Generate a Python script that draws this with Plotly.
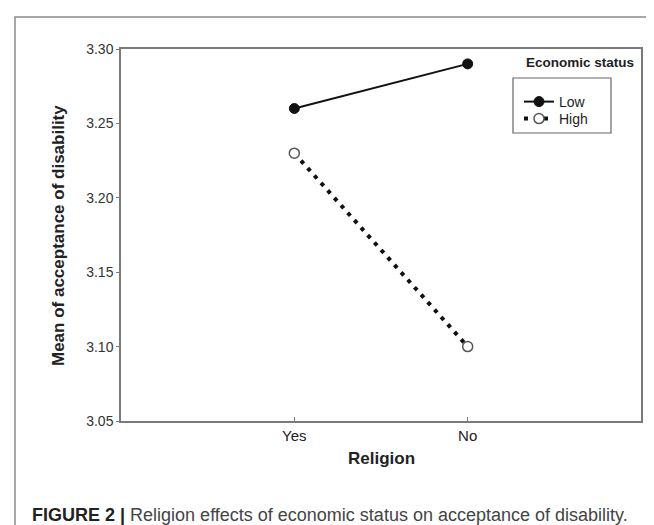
import plotly.graph_objects as go

religion = ["Yes", "No"]
x_pos = [1, 2]
low_values = [3.26, 3.29]
high_values = [3.23, 3.10]
y_ticks = [3.05, 3.10, 3.15, 3.20, 3.25, 3.30]
y_ticklabels = ["3.05", "3.10", "3.15", "3.20", "3.25", "3.30"]

W, H = 654, 525
L, R, T, B = 113, 21, 41, 112
PW, PH = W - L - R, H - T - B


def px(xp):
    return (xp - L) / PW


def py(yp):
    return (H - B - yp) / PH


FONT = "Liberation Sans, Arial, sans-serif"
AXIS_COL = "#7a7a7a"

fig = go.Figure()
fig.add_trace(go.Scatter(
    x=x_pos, y=low_values, name="Low", mode="lines+markers", legend="legend",
    line=dict(color="#111111", width=2),
    marker=dict(symbol="circle", size=10, color="#111111",
                line=dict(color="#111111", width=1)),
))
fig.add_trace(go.Scatter(
    x=x_pos, y=high_values, name="High", mode="lines+markers", legend="legend2",
    line=dict(color="#111111", width=4, dash="4px,6px"),
    marker=dict(symbol="circle", size=10, color="white",
                line=dict(color="#555555", width=1.5)),
))

legend_common = dict(
    xanchor="left", yanchor="top",
    bgcolor="rgba(0,0,0,0)", borderwidth=0,
    font=dict(size=14, color="#222222", family=FONT),
    itemwidth=30,
)

fig.update_layout(
    width=W, height=H,
    margin=dict(l=L, r=R, t=T, b=B),
    paper_bgcolor="white", plot_bgcolor="white",
    font=dict(family=FONT, color="#222222"),
    showlegend=True,
    legend=dict(x=px(511), y=py(78), **legend_common),
    legend2=dict(x=px(511), y=py(95), **legend_common),
)

fig.update_xaxes(
    range=[0, 3], tickmode="array", tickvals=x_pos, ticktext=religion,
    showgrid=False, zeroline=False,
    showline=True, linecolor=AXIS_COL, linewidth=1.5, mirror=True,
    ticks="inside", ticklen=4, tickcolor=AXIS_COL, tickwidth=1,
    tickfont=dict(size=15, color="#222222", family=FONT),
)
fig.update_yaxes(
    range=[3.05, 3.30], tickmode="array", tickvals=y_ticks, ticktext=y_ticklabels,
    showgrid=False, zeroline=False,
    showline=True, linecolor=AXIS_COL, linewidth=1.5, mirror=True,
    ticks="outside", ticklen=3, tickcolor=AXIS_COL, tickwidth=1,
    tickfont=dict(size=14, color="#333333", family=FONT),
)

# outer frame
fig.add_shape(type="rect", xref="paper", yref="paper",
              x0=px(7), x1=px(680), y0=py(540), y1=py(9),
              line=dict(color="#8a8a8a", width=1.5), layer="below")
# legend box
fig.add_shape(type="rect", xref="paper", yref="paper",
              x0=px(505), x1=px(603), y0=py(125), y1=py(70),
              line=dict(color="#666666", width=1.2))

annotations = [
    dict(text="<b>Economic status</b>", x=px(572), y=py(55), xanchor="center", yanchor="middle",
         font=dict(size=13.5, color="#222222")),
    dict(text="<b>Religion</b>", x=0.5, y=py(451), xanchor="center", yanchor="middle",
         font=dict(size=17, color="#222222")),
    dict(text="<b>Mean of acceptance of disability</b>", x=px(50), y=py(228), textangle=-90,
         xanchor="center", yanchor="middle", font=dict(size=17, color="#222222")),
    dict(text="<b>FIGURE 2 |</b> <span style='color:#444444'>Religion effects of economic status on acceptance of disability.</span>",
         x=px(22), y=py(507), xanchor="left", yanchor="middle",
         font=dict(size=18, color="#222222")),
]
for a in annotations:
    a.update(xref="paper", yref="paper", showarrow=False)
    fig.add_annotation(**a)

fig.write_html("out.html")
